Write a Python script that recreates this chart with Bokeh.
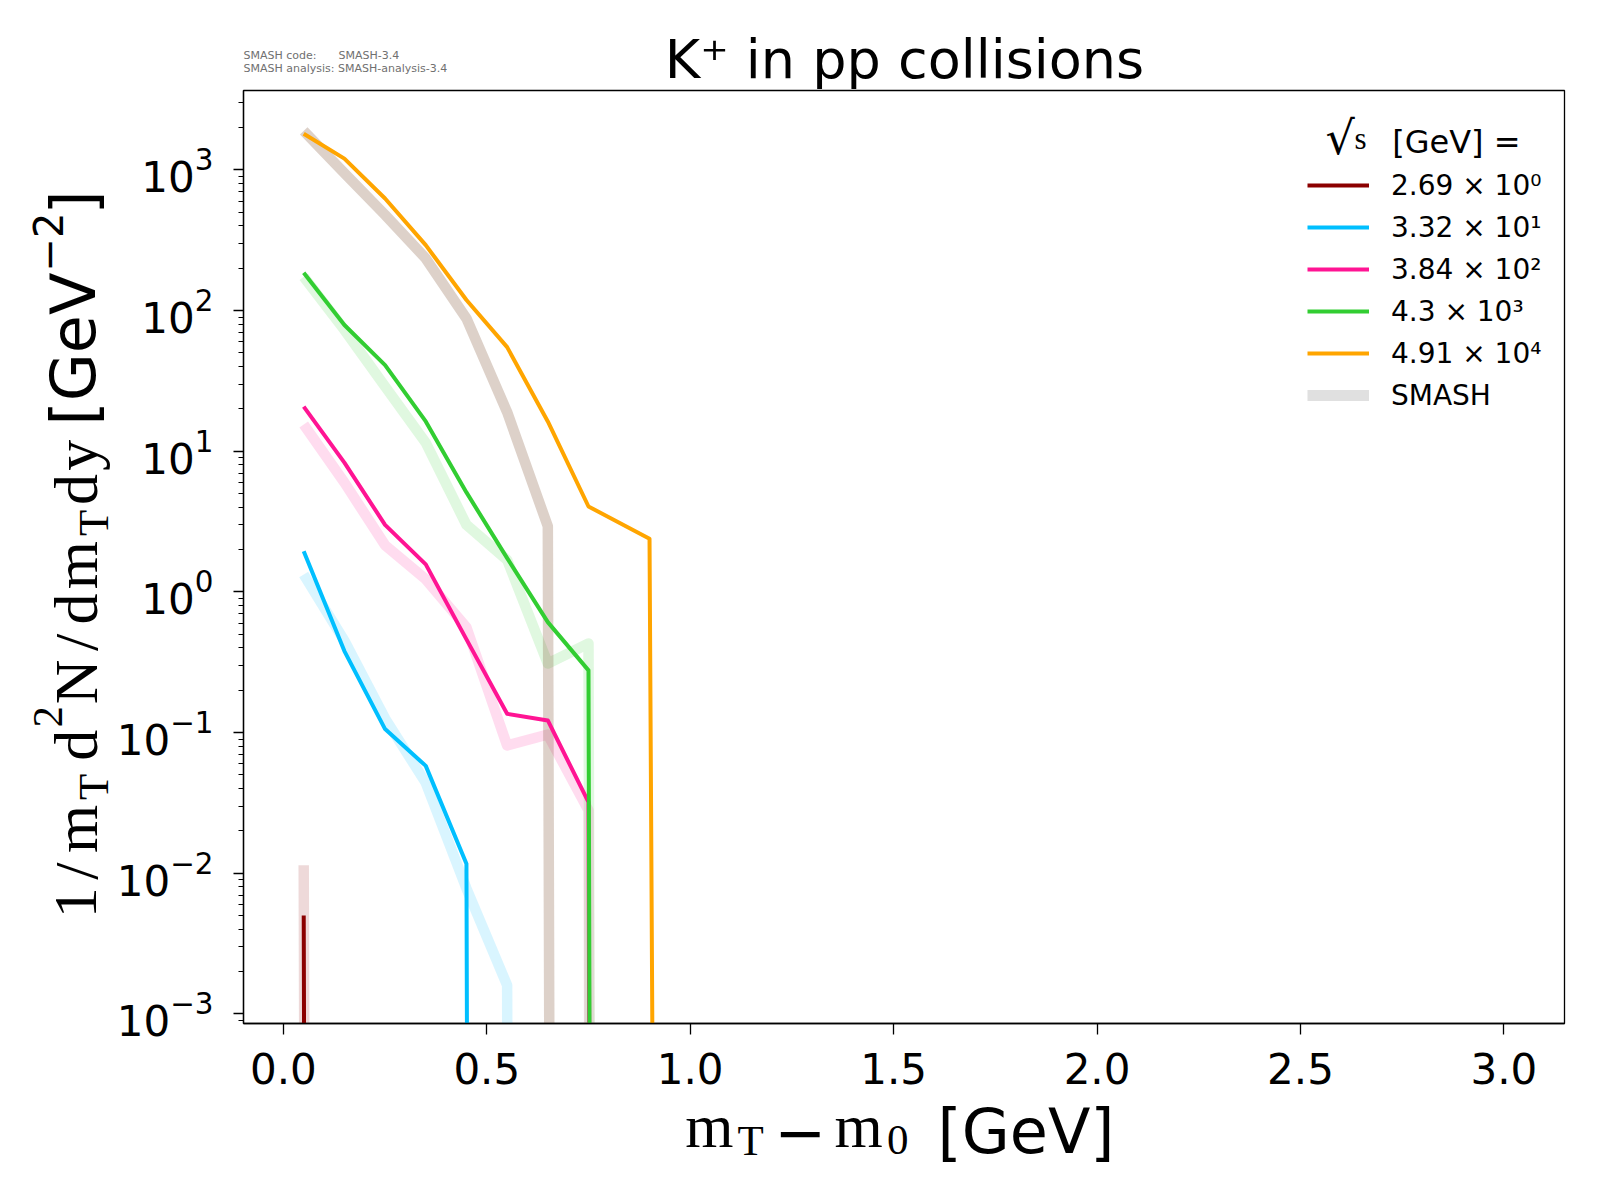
import math
from bokeh.plotting import figure
from bokeh.models import (Range1d, FixedTicker, NumeralTickFormatter, LogTickFormatter,
                          Label, Legend, LegendItem)
from bokeh.embed import file_html
from bokeh.resources import INLINE

# ---------------- data ----------------
bins = [0.05, 0.15, 0.25, 0.35, 0.45, 0.55, 0.65, 0.75, 0.85, 0.95, 1.05]
bins_49100 = [0.05, 0.15, 0.25, 0.35, 0.45, 0.55, 0.65, 0.75, 0.9, 1.1]

energies = ["2.69 × 10⁰", "3.32 × 10¹", "3.84 × 10²", "4.3 × 10³", "4.91 × 10⁴"]
colors = ["#8b0000", "#00bfff", "#ff1493", "#32cd32", "#ffa500"]

data_269 = [0.005, 0, 0, 0, 0, 0, 0, 0, 0, 0, 0]
data_332 = [1.95, 0.38, 0.106, 0.058, 0.0117, 0, 0, 0, 0, 0, 0]
data_384 = [20.8, 8.3, 3.0, 1.57, 0.46, 0.136, 0.122, 0.032, 0, 0, 0]
data_4300 = [186, 79, 41, 16.3, 5.1, 1.74, 0.61, 0.277, 0, 0, 0]
data_49100 = [1810, 1205, 627, 292, 119, 55, 16.3, 4.05, 2.39, 0]

smash_269 = [0.0114, 0, 0, 0, 0, 0, 0, 0, 0, 0, 0]
smash_332 = [1.33, 0.45, 0.126, 0.044, 0.0078, 0.0016, 0, 0, 0, 0, 0]
smash_384 = [15.5, 6.0, 2.15, 1.23, 0.56, 0.081, 0.097, 0.028, 0, 0, 0]
smash_4300 = [174, 73, 28.9, 11.5, 3.0, 1.69, 0.31, 0.43, 0, 0, 0]
smash_49100 = [1900, 950, 480, 235, 88, 19, 2.93, 0, 0, 0, 0]

x_tick_values = [0.0, 0.5, 1.0, 1.5, 2.0, 2.5, 3.0]
y_decades = [-3, -2, -1, 0, 1, 2, 3]

W, H = 1592, 1192


def clip(vals):
    # like matplotlib's log-axis clipping of non-positive values
    return [v if v > 0 else 1e-100 for v in vals]


# ---------------- main figure ----------------
p = figure(width=W, height=H, x_range=Range1d(-0.098, 3.149),
           y_range=Range1d(8.55e-4, 3673), y_axis_type="log",
           output_backend="svg", toolbar_location=None,
           min_border_left=243, min_border_right=28, min_border_top=90, min_border_bottom=169)
p.title.text = ""
p.grid.visible = False
p.background_fill_color = "white"
p.border_fill_color = "white"
p.outline_line_color = "black"
p.outline_line_width = 1.3
p.outline_line_alpha = 1.0

xa = p.xaxis[0]
xa.ticker = FixedTicker(ticks=x_tick_values)
xa.formatter = NumeralTickFormatter(format="0.0")
xa.major_label_text_font = "DejaVu Sans"
xa.major_label_text_font_size = "42px"
xa.major_label_text_color = "black"
xa.major_tick_out = 11
xa.major_tick_in = 0
xa.minor_tick_line_color = None
xa.major_tick_line_width = 1.3
xa.axis_line_width = 1.3
xa.major_label_standoff = 18

ya = p.yaxis[0]
minor = [m * 10.0 ** e for e in range(-4, 4) for m in range(2, 10)]
ya.ticker = FixedTicker(ticks=[10.0 ** e for e in y_decades], minor_ticks=minor)
ya.formatter = LogTickFormatter()
ya.major_label_text_font = "DejaVu Sans"
ya.major_label_text_font_size = "42px"
ya.major_label_text_color = "black"
ya.major_tick_out = 10
ya.major_tick_in = 0
ya.minor_tick_out = 5
ya.minor_tick_in = 0
ya.major_tick_line_width = 1.3
ya.minor_tick_line_width = 1.1
ya.axis_line_width = 1.3
ya.major_label_standoff = 20

# SMASH bands (drawn first)
smash_sets = [(bins, smash_269, colors[0], 0.15), (bins, smash_332, colors[1], 0.15),
              (bins, smash_384, colors[2], 0.15), (bins, smash_4300, colors[3], 0.15),
              (bins, smash_49100, "#784628", 0.25)]
for xs, ys, c, a in smash_sets:
    p.line(xs, clip(ys), line_color=c, line_alpha=a, line_width=10.5, line_join="round")

# model lines
line_sets = [(bins, data_269), (bins, data_332), (bins, data_384), (bins, data_4300), (bins_49100, data_49100)]
renderers = []
for (xs, ys), c in zip(line_sets, colors):
    renderers.append(p.line(xs, clip(ys), line_color=c, line_width=4, line_join="round"))
smash_r = p.line(x=[float("nan")], y=[float("nan")], line_color="#e0e0e0", line_width=11)

items = [LegendItem(label=lab_, renderers=[r]) for lab_, r in zip(energies, renderers)]
items.append(LegendItem(label="SMASH", renderers=[smash_r]))
legend = Legend(items=items, location=(1064, 611), padding=0, margin=0,
                label_text_font="DejaVu Sans", label_text_font_size="28px", label_text_color="black",
                glyph_width=62, glyph_height=34, label_height=34, label_standoff=22,
                spacing=8, border_line_color=None, background_fill_alpha=0)
p.add_layout(legend)

# ---------------- overlay figure (separate root) for the texts around the frame ----------------
q = figure(width=W, height=H, x_range=Range1d(0, 1), y_range=Range1d(0, 1),
           x_axis_location=None, y_axis_location=None, min_border=0,
           output_backend="svg", toolbar_location=None, margin=(-H, 0, 0, 0))
q.title.text = ""
q.grid.visible = False
q.outline_line_color = None
q.background_fill_alpha = 0
q.border_fill_alpha = 0

K = 0.4  # empirical baseline correction (fraction of font size)


def lab(X, Y, text, font="DejaVu Sans", size=62, angle=0.0, align="left", color="black"):
    if angle == 0.0:
        x, y = X, H - Y + K * size
    else:
        x, y = X - K * size, H - Y
    q.add_layout(Label(x=x, y=y, x_units="screen", y_units="screen", text=text,
                       text_font=font, text_font_size=f"{size}px", text_color=color,
                       text_align=align, text_baseline="alphabetic", angle=angle))


# title
lab(904, 81, "K⁺ in pp collisions", size=54, align="center")

# version info
lab(243, 59, "SMASH code:", size=11, color="#707070")
lab(338, 59, "SMASH-3.4", size=11, color="#707070")
lab(243, 72, "SMASH analysis: SMASH-analysis-3.4", size=11, color="#707070")

# legend title
lab(1325, 156, "√", font="DejaVu Sans", size=46)
lab(1354, 150, "s", font="Liberation Serif", size=31)
lab(1391.7, 154, "[GeV] =", size=32)

SERIF = "Liberation Serif"
TIMES_W = {"1": 0.5, "/": 0.278, "m": 0.778, "T": 0.611, "d": 0.5, "2": 0.5, "N": 0.722, "y": 0.5, "0": 0.5}
CM_W = {"1": 0.5, "/": 0.5, "m": 0.833, "T": 0.722, "d": 0.556, "2": 0.5, "N": 0.75, "y": 0.528, "0": 0.5}

# x label: m_T - m_0 [GeV]
lab(684.7, 1150, "m", font=SERIF, size=62)
lab(737, 1157, "T", font=SERIF, size=43)
lab(774, 1155, "−", size=62)
lab(834, 1150, "m", font=SERIF, size=62)
lab(886.5, 1157, "0", font=SERIF, size=43)
lab(937, 1156, "[GeV]", size=62)

# y label: 1/m_T d^2N/dm_T dy [GeV^-2]  (rotated, reading upward)
STRETCH = 1.02
seq = [("1", 62, 100), ("/", 62, 100), ("m", 62, 100), ("T", 43, 110), (None, 8, 0),
       ("d", 62, 100), ("2", 43, 65), ("N", 62, 100), ("/", 62, 100), ("d", 62, 100),
       ("m", 62, 100), ("T", 43, 110), ("d", 62, 100), ("y", 62, 100)]
pos = 918.0
for ch, sz, bx in seq:
    if ch is None:
        pos -= sz * STRETCH
        continue
    slot = CM_W[ch] * sz * STRETCH
    off = (slot - TIMES_W[ch] * sz) / 2
    lab(bx, pos - off, ch, font=SERIF, size=sz, angle=math.pi / 2)
    pos -= slot
lab(98, 425, "[GeV", size=62, angle=math.pi / 2)
lab(63, 271, "−2", size=40, angle=math.pi / 2)
lab(98, 214, "]", size=62, angle=math.pi / 2)

open("out.html", "w").write(file_html([p, q], INLINE))
